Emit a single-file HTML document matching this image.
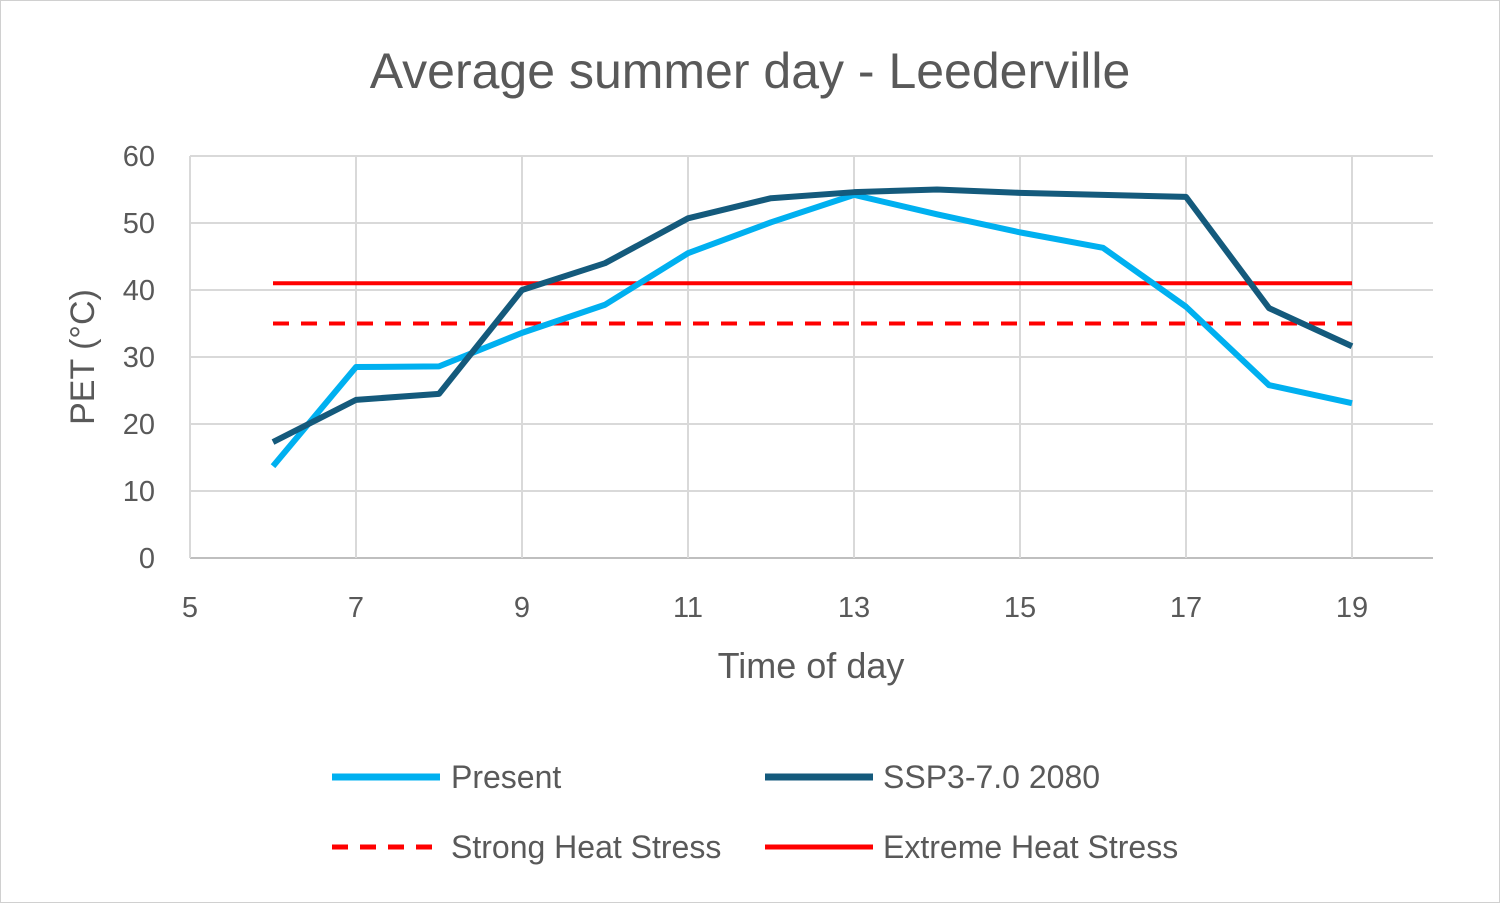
<!DOCTYPE html>
<html><head><meta charset="utf-8"><style>
body{margin:0;background:#fff;}
svg{display:block;font-family:"Liberation Sans",sans-serif;}
</style></head><body>
<svg id="chart" width="1500" height="903" viewBox="0 0 1500 903">
<rect x="0.5" y="0.5" width="1499" height="902" fill="#fff" stroke="#d0d0d0"/>
<text x="750" y="88" text-anchor="middle" font-size="50" fill="#595959">Average summer day - Leederville</text>
<g id="grid"></g>
<g id="series"></g>
<text transform="translate(94,357) rotate(-90)" text-anchor="middle" font-size="34" fill="#595959">PET (°C)</text>
<text x="811" y="678" text-anchor="middle" font-size="36" fill="#595959">Time of day</text>
<g>
<line x1="332" y1="777" x2="440" y2="777" stroke="#00b0f0" stroke-width="7"/>
<text x="451" y="788" font-size="32" fill="#595959">Present</text>
<line x1="765" y1="777" x2="873" y2="777" stroke="#145a7c" stroke-width="7"/>
<text x="883" y="788" font-size="32" fill="#595959">SSP3-7.0 2080</text>
<line x1="332" y1="847" x2="440" y2="847" stroke="#ff0000" stroke-width="5" stroke-dasharray="16,12"/>
<text x="451" y="858" font-size="32" fill="#595959">Strong Heat Stress</text>
<line x1="765" y1="847" x2="873" y2="847" stroke="#ff0000" stroke-width="5"/>
<text x="883" y="858" font-size="32" fill="#595959">Extreme Heat Stress</text>
</g>
</svg>
<script>
const hours=[6,7,8,9,10,11,12,13,14,15,16,17,18,19];
const presentVals=[13.7,28.5,28.6,33.6,37.8,45.5,50.1,54.2,51.3,48.6,46.3,37.5,25.8,23.1];
const sspVals=[17.3,23.6,24.5,40,44,50.7,53.7,54.6,55,54.5,54.2,53.9,37.3,31.6];
const strongVal=35;
const extremeVal=41;
const xTicks=[5,7,9,11,13,15,17,19];
const yTicks=[0,10,20,30,40,50,60];
const NS="http://www.w3.org/2000/svg";
const x=v=>190+(v-5)*83;
const y=v=>558-v*6.7;
function mk(t,a,p){const e=document.createElementNS(NS,t);for(const k in a)e.setAttribute(k,a[k]);p.appendChild(e);return e;}
const g=document.getElementById('grid'),s=document.getElementById('series');
yTicks.forEach(v=>{
 const l=mk('line',{x1:190,x2:1433,y1:y(v),y2:y(v),stroke:v===0?'#bfbfbf':'#d9d9d9','stroke-width':2},g);
 
 
 const t=mk('text',{x:155,y:y(v)+10,'text-anchor':'end','font-size':29,fill:'#595959'},g);t.textContent=v;
 
 
});
xTicks.forEach(v=>{
 const l=mk('line',{x1:x(v),x2:x(v),y1:y(60),y2:y(0),stroke:'#d9d9d9','stroke-width':2},g);
 
 
 const t=mk('text',{x:x(v),y:617,'text-anchor':'middle','font-size':29,fill:'#595959'},g);t.textContent=v;
 
 
});
const h1=mk('line',{x1:x(6),x2:x(19),y1:y(strongVal),y2:y(strongVal),stroke:'#ff0000','stroke-width':4,'stroke-dasharray':'16,12'},s);


const h2=mk('line',{x1:x(6),x2:x(19),y1:y(extremeVal),y2:y(extremeVal),stroke:'#ff0000','stroke-width':4},s);


const p1=mk('polyline',{points:hours.map((h,i)=>x(h)+','+y(presentVals[i])).join(' '),fill:'none',stroke:'#00b0f0','stroke-width':6,'stroke-linejoin':'round'},s);


const p2=mk('polyline',{points:hours.map((h,i)=>x(h)+','+y(sspVals[i])).join(' '),fill:'none',stroke:'#145a7c','stroke-width':6,'stroke-linejoin':'round'},s);


</script>
</body></html>
